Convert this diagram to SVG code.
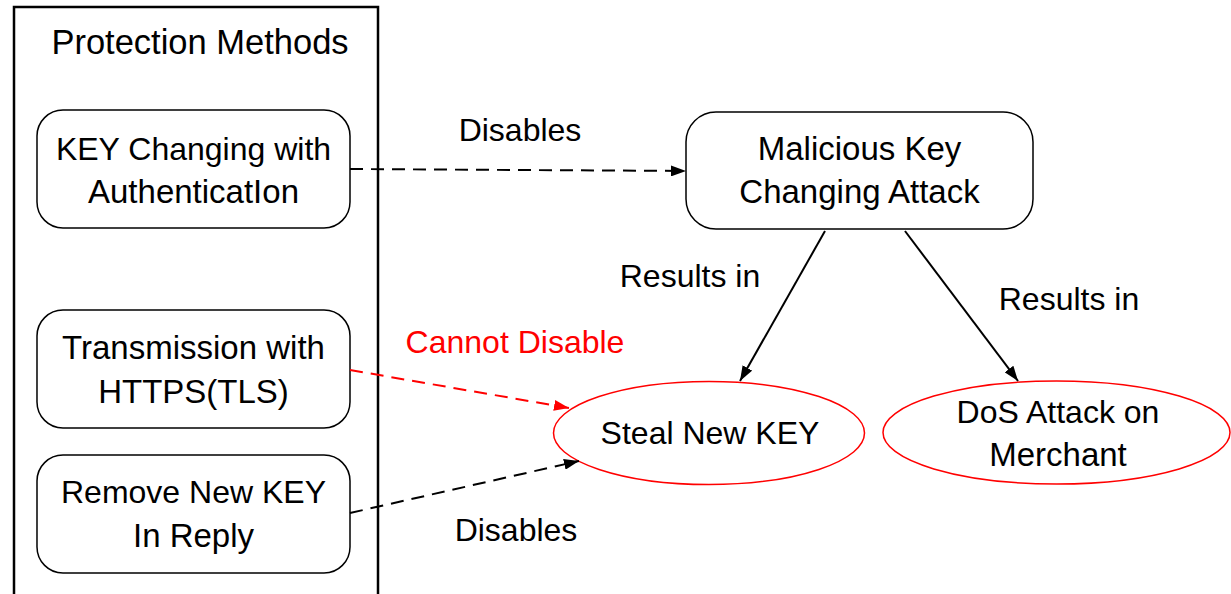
<svg xmlns="http://www.w3.org/2000/svg" width="1231" height="594" viewBox="0 0 1231 594">
  <style>
    text { font-family: "Liberation Sans", Arial, sans-serif; font-size: 32px; fill: #000; text-anchor: middle; }
    .big { font-size: 33px; }
    .title { font-size: 34.5px; }
    .node { fill: #fff; stroke: #000; stroke-width: 1.5; }
    .goal { fill: #fff; stroke: #ff0000; stroke-width: 1.5; }
    .dash { fill: none; stroke: #000; stroke-width: 2; stroke-dasharray: 13 8; }
    .dash-red { fill: none; stroke: #ff0000; stroke-width: 2; stroke-dasharray: 13 8; }
    .solid { fill: none; stroke: #000; stroke-width: 2; }
    .red { fill: #ff0000; }
  </style>
  <defs>
    <marker id="arrow" viewBox="0 0 15 11" refX="15" refY="5.5" markerWidth="15" markerHeight="11" markerUnits="userSpaceOnUse" orient="auto">
      <path d="M0,0 L15,5.5 L0,11 Z" fill="#000"/>
    </marker>
    <marker id="arrow-red" viewBox="0 0 15 11" refX="15" refY="5.5" markerWidth="15" markerHeight="11" markerUnits="userSpaceOnUse" orient="auto">
      <path d="M0,0 L15,5.5 L0,11 Z" fill="#ff0000"/>
    </marker>
  </defs>
  <rect width="1231" height="594" fill="#fff"/>

  <!-- container of protection methods -->
  <g id="protection-methods">
    <rect x="14" y="7" width="364" height="600" fill="none" stroke="#000" stroke-width="2.5"/>
    <text class="title" x="200" y="54">Protection Methods</text>
  </g>

  <g id="key-auth">
    <rect class="node" x="37" y="110" width="313" height="118" rx="26"/>
    <text x="193.5" y="160">KEY Changing with</text>
    <text class="big" x="193.5" y="203">AuthenticatIon</text>
  </g>

  <g id="https-tls">
    <rect class="node" x="37" y="310" width="313" height="118" rx="26"/>
    <text class="big" x="193.5" y="359">Transmission with</text>
    <text class="big" x="193.5" y="403">HTTPS(TLS)</text>
  </g>

  <g id="remove-key">
    <rect class="node" x="37" y="455" width="313" height="118" rx="26"/>
    <text x="193.5" y="503">Remove New KEY</text>
    <text class="big" x="193.5" y="547">In Reply</text>
  </g>

  <g id="malicious-attack">
    <rect class="node" x="686" y="112" width="347" height="117" rx="30"/>
    <text class="big" x="859.5" y="160">Malicious Key</text>
    <text class="big" x="859.5" y="203">Changing Attack</text>
  </g>

  <g id="steal-key">
    <ellipse class="goal" cx="709" cy="433" rx="155.5" ry="51.5"/>
    <text x="710" y="444">Steal New KEY</text>
  </g>

  <g id="dos-attack">
    <ellipse class="goal" cx="1056.5" cy="432.5" rx="173.5" ry="51.5"/>
    <text x="1058" y="423">DoS Attack on</text>
    <text class="big" x="1058" y="466">Merchant</text>
  </g>

  <!-- connectors -->
  <g id="connectors">
    <line class="dash" x1="350" y1="169" x2="686" y2="171" marker-end="url(#arrow)"/>
    <line class="dash-red" x1="350" y1="370" x2="569" y2="408" marker-end="url(#arrow-red)"/>
    <line class="dash" x1="350" y1="513" x2="579" y2="461" marker-end="url(#arrow)"/>
    <line class="solid" x1="825" y1="231" x2="740" y2="381" marker-end="url(#arrow)"/>
    <line class="solid" x1="905" y1="231" x2="1018" y2="381" marker-end="url(#arrow)"/>
    <text x="520" y="141">Disables</text>
    <text class="red" x="515" y="353">Cannot Disable</text>
    <text x="516" y="541">Disables</text>
    <text x="690" y="287">Results in</text>
    <text x="1069" y="310">Results in</text>
  </g>
</svg>
